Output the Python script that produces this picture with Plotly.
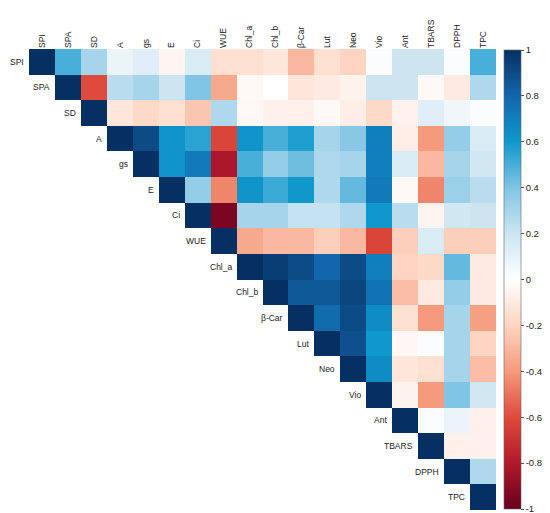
import plotly.graph_objects as go

variables = ["SPI", "SPA", "SD", "A", "gs", "E", "Ci", "WUE", "Chl_a", "Chl_b",
             "β-Car", "Lut", "Neo", "Vio", "Ant", "TBARS", "DPPH", "TPC"]

# upper-triangle correlations (each row: values for the columns to the right of the diagonal)
r_SPI = [0.50, 0.30, 0.08, 0.12, -0.05, 0.15, -0.15, -0.15, -0.12, -0.30, -0.15, -0.20, 0.02, 0.20, 0.20, 0.02, 0.50]
r_SPA = [-0.60, 0.25, 0.30, 0.20, 0.40, -0.35, -0.03, 0.00, -0.12, -0.10, -0.06, 0.20, 0.20, -0.03, -0.10, 0.28]
r_SD = [-0.12, -0.18, -0.15, -0.25, 0.28, -0.04, -0.07, -0.07, -0.03, -0.08, -0.18, -0.06, 0.12, 0.06, 0.02]
r_A = [0.90, 0.62, 0.55, -0.62, 0.62, 0.50, 0.57, 0.30, 0.38, 0.70, -0.08, -0.40, 0.35, 0.15]
r_gs = [0.62, 0.72, -0.82, 0.50, 0.35, 0.43, 0.28, 0.30, 0.70, 0.15, -0.30, 0.30, 0.18]
r_E = [0.35, -0.45, 0.62, 0.52, 0.60, 0.28, 0.45, 0.72, -0.03, -0.45, 0.33, 0.25]
r_Ci = [-0.95, 0.30, 0.30, 0.22, 0.22, 0.28, 0.60, 0.25, -0.05, 0.18, 0.20]
r_WUE = [-0.35, -0.30, -0.30, -0.22, -0.30, -0.62, -0.22, 0.15, -0.22, -0.22]
r_Chl_a = [0.95, 0.90, 0.80, 0.90, 0.70, -0.20, -0.18, 0.45, -0.10]
r_Chl_b = [0.85, 0.85, 0.92, 0.75, -0.28, -0.10, 0.35, -0.10]
r_bCar = [0.78, 0.90, 0.65, -0.15, -0.40, 0.30, -0.38]
r_Lut = [0.88, 0.60, -0.04, 0.02, 0.30, -0.20]
r_Neo = [0.65, -0.12, -0.15, 0.30, -0.28]
r_Vio = [-0.06, -0.40, 0.40, 0.18]
r_Ant = [0.02, 0.08, -0.07]
r_TBARS = [-0.07, -0.07]
r_DPPH = [0.28]
r_TPC = []

rows = [r_SPI, r_SPA, r_SD, r_A, r_gs, r_E, r_Ci, r_WUE, r_Chl_a, r_Chl_b,
        r_bCar, r_Lut, r_Neo, r_Vio, r_Ant, r_TBARS, r_DPPH, r_TPC]

n = len(variables)
z = []
for i in range(n):
    row = [None] * i + [1.0] + list(rows[i])
    z.append(row)

colorscale = [
    [0.0, "#67001F"],
    [0.1, "#B2182B"],
    [0.2, "#DE4A3C"],
    [0.3, "#F59A7C"],
    [0.4, "#FDD5C2"],
    [0.5, "#FFFFFF"],
    [0.6, "#CCE5F1"],
    [0.7, "#80C5E4"],
    [0.8, "#0E98CC"],
    [0.9, "#1466AC"],
    [1.0, "#053061"],
]

fig = go.Figure()
fig.add_trace(go.Heatmap(
    z=z,
    x=list(range(n)),
    y=list(range(n)),
    zmin=-1, zmax=1,
    colorscale=colorscale,
    xgap=0, ygap=0,
    hoverongaps=False,
    colorbar=dict(
        x=1.017, xanchor="left", xpad=0,
        y=0.5, yanchor="middle", ypad=0,
        len=0.995, lenmode="fraction",
        thickness=17,
        outlinewidth=0.6, outlinecolor="#666666",
        tickmode="array",
        tickvals=[-1, -0.8, -0.6, -0.4, -0.2, 0, 0.2, 0.4, 0.6, 0.8, 1],
        ticktext=["-1", "-0.8", "-0.6", "-0.4", "-0.2", "0", "0.2", "0.4", "0.6", "0.8", "1"],
        ticks="outside", ticklen=3, tickcolor="#555555",
        tickfont=dict(family="Liberation Sans, Arial", size=9.5, color="#222222"),
    ),
))

for i, name in enumerate(variables):
    fig.add_annotation(
        x=i - 0.5, y=i, xref="x", yref="y",
        text=name, showarrow=False,
        xanchor="right", yanchor="middle", xshift=-3,
        font=dict(family="Liberation Sans, Arial", size=8.5, color="#222222"),
    )

fig.update_layout(
    width=550, height=513,
    margin=dict(l=21, r=62, t=36, b=11),
    paper_bgcolor="white", plot_bgcolor="white",
    showlegend=False,
)
fig.update_xaxes(
    side="top", tickangle=-90,
    tickmode="array", tickvals=list(range(n)), ticktext=variables,
    tickfont=dict(family="Liberation Sans, Arial", size=8.5, color="#222222"),
    showgrid=False, zeroline=False, showline=False, ticks="",
    range=[-0.5, n - 0.5],
)
fig.update_yaxes(
    autorange=False, range=[n - 0.5, -0.5],
    showticklabels=False, showgrid=False, zeroline=False, showline=False, ticks="",
)

fig.write_html("out.html")
